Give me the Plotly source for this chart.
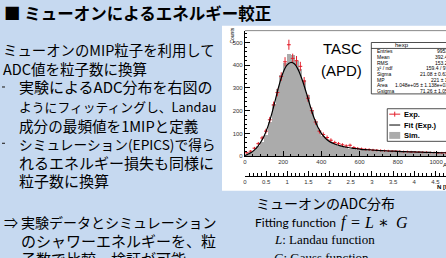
import numpy as np
import plotly.graph_objects as go

W, H = 446, 258
def X(px): return px / W
def Y(py): return 1 - py / H

# ---------------- data ----------------
bin_centers = [10, 30, 50, 70, 90, 110, 130, 150, 170, 190, 210, 230, 250, 270, 290, 310,
               330, 350, 370, 390, 410, 430, 450, 470, 490, 510, 530, 550, 570, 590, 610,
               630, 650, 670, 690, 710, 730, 750, 770, 790, 810, 830, 850, 870, 890, 910,
               930, 950, 970, 990, 1010, 1030, 1050]
sim_counts = [8, 18, 30, 45, 65, 95, 150, 230, 295, 360, 410, 450, 445, 420, 385, 335,
              270, 205, 155, 115, 90, 75, 62, 55, 48, 42, 38, 35, 32, 30, 28,
              27, 26, 25, 24, 23, 22, 21, 21, 20, 19, 19, 18, 18, 17, 17,
              16, 16, 15, 15, 14, 14, 13]
exp_counts = [15, 22, 35, 55, 80, 110, 160, 225, 280, 350, 415, 490, 430, 420, 395, 330,
              255, 200, 150, 110, 95, 82, 70, 60, 55, 50, 45, 48, 38, 34, 32,
              30, 29, 27, 26, 25, 24, 23, 22, 22, 21, 20, 20, 19, 18, 18,
              17, 17, 16, 16, 15, 15, 15]
fit_x = [0, 20, 40, 60, 80, 100, 120, 140, 160, 180, 200, 220, 240, 260, 280, 300, 320,
         340, 360, 380, 400, 420, 440, 460, 480, 500, 520, 540, 560, 580, 600, 620, 640,
         660, 680, 700, 720, 740, 760, 780, 800, 820, 840, 860, 880, 900, 920, 940, 960,
         980, 1000, 1020, 1040, 1060]
fit_y = [3, 10, 20, 35, 58, 88, 130, 185, 250, 315, 368, 400, 412, 405, 378, 335, 282,
         225, 172, 130, 100, 80, 66, 57, 50, 45, 41, 38, 35, 33, 31, 29, 28,
         27, 26, 25, 24, 23, 22, 22, 21, 20, 20, 19, 19, 18, 18, 17, 17,
         16, 16, 15, 15, 15]
bin_width = 20

stat_labels = ["Entries", "Mean", "RMS", "χ² / ndf", "Sigma", "MP", "Area", "Gsigma"]
stat_values = ["9953", "392.4", "153.2", "159.4 / 97", "21.08 ± 0.63", "221 ± 1",
               "1.048e+05 ± 1.138e+03", "71.26 ± 1.05"]

# (text, x px, y px, font size)
left_lines = [
    ("ミューオンのMIP粒子を利用して", -1, 50, 14.4),
    ("ADC値を粒子数に換算", -1, 69, 14.5),
    ("実験によるADC分布を右図の", 15, 88, 15),
    ("ようにフィッティングし、Landau", 15, 108, 12.8),
    ("成分の最頻値を1MIPと定義", 15, 127, 14.6),
    ("シミュレーション(EPICS)で得ら", 15, 145.5, 13.7),
    ("れるエネルギー損失も同様に", 15, 164, 15),
    ("粒子数に換算", 15, 183, 15),
    ("実験データとシミュレーション", 17, 225, 14),
    ("のシャワーエネルギーを、粒", 17, 243, 15),
    ("子数で比較、検証が可能", 17, 262, 15),
]

# ---------------- figure ----------------
fig = go.Figure()
fig.add_trace(go.Bar(x=bin_centers, y=sim_counts, width=bin_width,
                     marker=dict(color="#ababab", line=dict(width=0)), showlegend=False))
fig.add_trace(go.Scatter(x=bin_centers, y=exp_counts, mode="markers",
                         marker=dict(size=1, color="#e3202c"),
                         error_y=dict(type="data", array=np.sqrt(exp_counts), color="#e3202c",
                                      thickness=1, width=0),
                         error_x=dict(type="constant", value=bin_width / 2, color="#e3202c",
                                      thickness=1, width=0),
                         showlegend=False))
fig.add_trace(go.Scatter(x=fit_x, y=fit_y, mode="lines", line=dict(color="black", width=1.2, shape="spline"),
                         showlegend=False))
fig.add_trace(go.Scatter(x=[], y=[], xaxis="x2", yaxis="y", showlegend=False))

axfont = dict(family="Liberation Sans, Arial", size=6, color="#333")
fig.update_layout(
    width=W, height=H, margin=dict(l=0, r=0, t=0, b=0), autosize=False,
    paper_bgcolor="#c6d9f0", plot_bgcolor="white", bargap=0,
    xaxis=dict(domain=[X(244), 1], range=[0, 1052], anchor="y", showline=True, linecolor="black",
               linewidth=1, ticks="inside", ticklen=5, tickcolor="black", tick0=0, dtick=200,
               minor=dict(ticks="inside", ticklen=2.5, dtick=40, tickcolor="black"),
               showgrid=False, zeroline=False, tickfont=axfont),
    yaxis=dict(domain=[Y(158), Y(31)], range=[0, 552], showline=True, linecolor="black",
               linewidth=1, ticks="inside", ticklen=5, tickcolor="black", tick0=0, dtick=100,
               minor=dict(ticks="inside", ticklen=2.5, dtick=20, tickcolor="black"),
               showgrid=False, zeroline=False, tickfont=axfont),
    xaxis2=dict(overlaying="x", anchor="free", position=Y(178), side="bottom", range=[0, 4.75],
                showline=True, linecolor="black", linewidth=1, ticks="inside", ticklen=5,
                tickcolor="black", tick0=0, dtick=0.5,
                minor=dict(ticks="inside", ticklen=2.5, dtick=0.1, tickcolor="black"),
                showgrid=False, zeroline=False, tickfont=axfont),
)

shapes = [
    dict(type="rect", xref="paper", yref="paper", x0=X(221), x1=1, y0=Y(193), y1=Y(26),
         fillcolor="white", line=dict(width=0), layer="below"),
    dict(type="line", xref="paper", yref="paper", x0=X(244), x1=1, y0=Y(31), y1=Y(31),
         line=dict(color="#888", width=1)),
    # stats box
    dict(type="rect", xref="paper", yref="paper", x0=X(371), x1=X(470), y0=Y(95), y1=Y(43),
         fillcolor="white", line=dict(color="#222", width=0.8)),
    dict(type="line", xref="paper", yref="paper", x0=X(371), x1=X(470), y0=Y(49), y1=Y(49),
         line=dict(color="#222", width=0.8)),
    # legend box
    dict(type="rect", xref="paper", yref="paper", x0=X(387), x1=X(470), y0=Y(143), y1=Y(110),
         fillcolor="white", line=dict(color="#222", width=0.8)),
    dict(type="line", xref="paper", yref="paper", x0=X(389), x1=X(400), y0=Y(115.5), y1=Y(115.5),
         line=dict(color="#e3202c", width=1)),
    dict(type="line", xref="paper", yref="paper", x0=X(394.5), x1=X(394.5), y0=Y(113), y1=Y(118),
         line=dict(color="#e3202c", width=1)),
    dict(type="line", xref="paper", yref="paper", x0=X(389), x1=X(400), y0=Y(126.5), y1=Y(126.5),
         line=dict(color="black", width=1)),
    dict(type="rect", xref="paper", yref="paper", x0=X(389), x1=X(400), y0=Y(140.5), y1=Y(133.5),
         fillcolor="#ababab", line=dict(width=0)),
    # bullets cut at left edge
    dict(type="line", xref="paper", yref="paper", x0=0, x1=X(3), y0=Y(88), y1=Y(88),
         line=dict(color="#333", width=1.2)),
    dict(type="line", xref="paper", yref="paper", x0=0, x1=X(3), y0=Y(145), y1=Y(145),
         line=dict(color="#333", width=1.2)),
]
fig.update_layout(shapes=shapes)

ann = []
def A(text, x, y, size, family="Noto Sans CJK JP", xanchor="left", color="black", **kw):
    ann.append(dict(text=text, x=X(x), y=Y(y), xref="paper", yref="paper", xanchor=xanchor,
                    yanchor="middle", showarrow=False, font=dict(family=family, size=size, color=color), **kw))

A("<b>■ ミューオンによるエネルギー較正</b>", 0, 13, 16.5)
for t, x, y, s in left_lines:
    A(t, x, y, s)
A("⇒", 0, 225, 14)

A("ミューオンのADC分布", 253, 205, 14)
A("Fitting function", 252, 225, 12, family="Lato")
serif = "Liberation Serif"
A("<i>f</i>", 344, 225, 16, family=serif, xanchor="center")
A("=", 355, 225, 16, family=serif, xanchor="center")
A("<i>L</i>", 369, 225, 16, family=serif, xanchor="center")
A("∗", 383, 225, 16, family="DejaVu Serif", xanchor="center")
A("<i>G</i>", 402, 225, 16, family=serif, xanchor="center")
A("<i>L</i>: Landau function", 271, 242, 13, family=serif)
A("<i>G</i>: Gauss function", 271, 261, 13, family=serif)

sans = "Liberation Sans, Arial"
A("TASC", 320, 49, 15, family=sans)
A("(APD)", 318, 71, 15, family=sans)
A("Counts", 226, 36, 5, family=sans, textangle=-90)
A("ADC", 441, 167, 6, family=sans)
A("<b>N [MIP]</b>", 435, 189, 6, family=sans)

A("hexp", 402, 46, 6, family=sans, xanchor="center")
row_y = [52, 57.6, 63.4, 69.1, 74.9, 80.6, 86.4, 92.1]
for lab, val, yy in zip(stat_labels, stat_values, row_y):
    A(lab, 375, yy, 5, family=sans)
    A(val, 450, yy, 5, family=sans, xanchor="right")

A("<b>Exp.</b>", 402, 115.5, 7.5, family=sans)
A("<b>Fit (Exp.)</b>", 402, 126.5, 7.5, family=sans)
A("<b>Sim.</b>", 402, 137, 7.5, family=sans)

fig.update_layout(annotations=ann)
fig.write_html("out.html", config={"displayModeBar": False},
               post_script="document.body.style.margin='0';document.body.style.overflow='hidden';")
